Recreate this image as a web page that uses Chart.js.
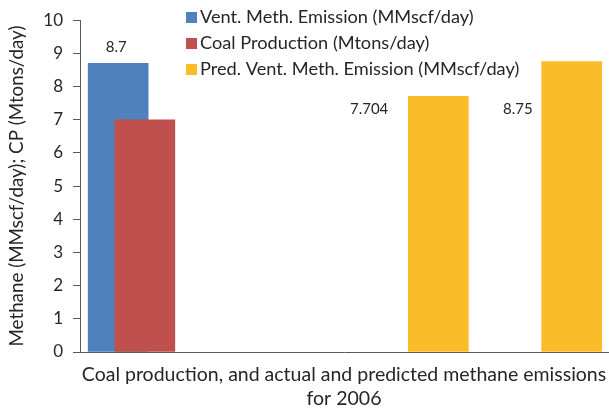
<!DOCTYPE html>
<html>
<head>
<meta charset="utf-8">
<script src="https://cdn.jsdelivr.net/npm/chart.js@4/dist/chart.umd.min.js"></script>
<style>
  html, body { margin: 0; padding: 0; background: #fff; }
  #wrap { width: 609px; height: 411px; }
</style>
</head>
<body>
<div id="wrap"><canvas id="c" width="609" height="411"></canvas></div>
<script>
// Slot positions along the horizontal axis and the values of each series
const ventSlots = [1];
const ventValues = [8.7];
const coalSlots = [2];
const coalValues = [7];
const predSlots = [13, 18];
const predValues = [7.704, 8.75];

const seriesLabels = [
  'Vent. Meth. Emission (MMscf/day)',
  'Coal Production (Mtons/day)',
  'Pred. Vent. Meth. Emission (MMscf/day)'
];
const yTicks = [0, 1, 2, 3, 4, 5, 6, 7, 8, 9, 10];
const xTitle = ['Coal production, and actual and predicted methane emissions', 'for 2006'];
const yTitle = 'Methane (MMscf/day); CP (Mtons/day)';

const FONT = 'Lato, "Open Sans", sans-serif';
const TEXT = '#262626';

function points(slots, values) {
  return slots.map((s, i) => ({ x: s, y: values[i] }));
}

// Legend drawn inside the plot area, top left of the free space
const insideLegend = {
  id: 'insideLegend',
  afterDraw(chart) {
    const ctx = chart.ctx;
    ctx.save();
    ctx.font = '18.2px ' + FONT;
    ctx.textBaseline = 'middle';
    ctx.textAlign = 'left';
    chart.data.datasets.forEach((ds, i) => {
      const y = 17 + i * 26;
      ctx.fillStyle = ds.backgroundColor;
      ctx.fillRect(186, y - 5, 11, 11);
      ctx.fillStyle = TEXT;
      ctx.fillText(ds.label, 200, y);
    });
    ctx.restore();
  }
};

// Value labels: above the bar, or to its left at a common height
const valueLabels = {
  id: 'valueLabels',
  afterDatasetsDraw(chart) {
    const ctx = chart.ctx;
    const yScale = chart.scales.y;
    ctx.save();
    ctx.font = '15px ' + FONT;
    ctx.fillStyle = TEXT;
    ctx.textBaseline = 'middle';
    chart.data.datasets.forEach((ds, di) => {
      if (!ds.showValue) return;
      chart.getDatasetMeta(di).data.forEach((bar, i) => {
        const txt = String(ds.data[i].y);
        if (ds.valueSide === 'top') {
          ctx.textAlign = 'center';
          ctx.fillText(txt, bar.x - 2, bar.y - 16);
        } else {
          ctx.textAlign = 'right';
          const gap = ds.labelGaps[i];
          ctx.fillText(txt, bar.x - bar.width / 2 - gap, yScale.getPixelForValue(7.32));
        }
      });
    });
    ctx.restore();
  }
};

new Chart(document.getElementById('c'), {
  type: 'bar',
  data: {
    datasets: [
      { label: seriesLabels[0], data: points(ventSlots, ventValues), backgroundColor: '#4F81BD', showValue: true, valueSide: 'top', order: 2 },
      { label: seriesLabels[1], data: points(coalSlots, coalValues), backgroundColor: '#C0504D', showValue: false, order: 1 },
      { label: seriesLabels[2], data: points(predSlots, predValues), backgroundColor: '#FBBC2A', showValue: true, valueSide: 'left', labelGaps: [20, 9], order: 0 }
    ]
  },
  plugins: [insideLegend, valueLabels],
  options: {
    responsive: false,
    animation: false,
    devicePixelRatio: 1,
    layout: { padding: { top: 20, right: 1, left: 0, bottom: 0 } },
    datasets: { bar: { grouped: false, barThickness: 60, borderWidth: 0 } },
    plugins: { legend: { display: false }, tooltip: { enabled: false } },
    scales: {
      x: {
        type: 'linear',
        offset: false,
        min: -0.43,
        max: 19.36,
        grid: { display: false, drawTicks: false },
        border: { display: true, color: '#595959', width: 1 },
        ticks: { display: false },
        title: {
          display: true,
          text: xTitle,
          color: TEXT,
          font: { family: FONT, size: 19.5, lineHeight: 1.25 },
          padding: { top: 9, bottom: 0 }
        },
        afterFit(s) { s.height = 59; }
      },
      y: {
        min: 0,
        max: 10,
        afterBuildTicks(s) { s.ticks = yTicks.map(v => ({ value: v })); },
        grid: { drawOnChartArea: false, drawTicks: true, tickLength: 7, color: '#595959' },
        border: { display: true, color: '#595959', width: 1 },
        ticks: { color: TEXT, font: { family: FONT, size: 17 }, padding: 10 },
        title: {
          display: true,
          text: yTitle,
          color: TEXT,
          font: { family: FONT, size: 18.8 },
          padding: { top: 6, bottom: 0 }
        },
        afterFit(s) { s.width = 80; }
      }
    }
  }
});
</script>
</body>
</html>
